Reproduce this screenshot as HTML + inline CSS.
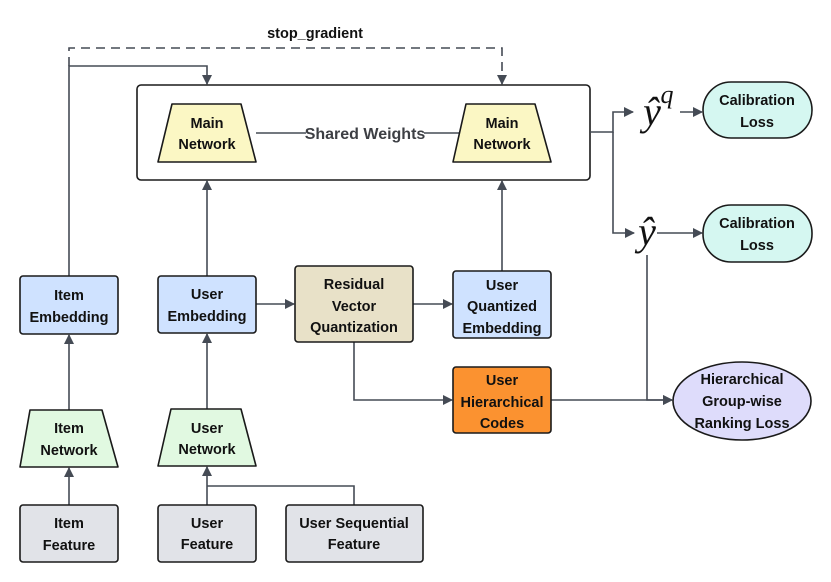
<!DOCTYPE html>
<html><head><meta charset="utf-8"><style>
body{margin:0;background:#fff}
svg{display:block}
text{font-family:"Liberation Sans",sans-serif;font-weight:bold;font-size:14.5px;fill:#111;text-anchor:middle}
.l{stroke:#454b55;stroke-width:1.6;fill:none}
.b{stroke:#1a1a1a;stroke-width:1.6}
.m{font-family:"Liberation Serif",serif;font-weight:normal;font-style:italic}
</style></head><body>
<svg width="831" height="582" viewBox="0 0 831 582">
<defs><marker id="a" markerWidth="10" markerHeight="10" refX="9" refY="5" orient="auto" markerUnits="userSpaceOnUse"><path d="M0,0 L10,5 L0,10z" fill="#454b55"/></marker></defs>
<path class="l" d="M69,276 V66 H207 V84" marker-end="url(#a)"/>
<path class="l" d="M69,66 V48 H502 V84" stroke-dasharray="9,6" marker-end="url(#a)"/>
<text x="315" y="38">stop_gradient</text>
<rect x="137" y="85" width="453" height="95" rx="4" fill="#fff" class="b"/>
<path class="l" d="M256,133 H306 M424,133 H466"/>
<text x="365" y="139" style="fill:#3d3f44;font-size:16px">Shared Weights</text>
<path d="M172,104 H241 L256,162 H158 Z" fill="#fbf7c4" class="b" stroke-linejoin="round"/>
<text x="207" y="128">Main</text><text x="207" y="149">Network</text>
<path d="M466,104 H535 L551,162 H453 Z" fill="#fbf7c4" class="b" stroke-linejoin="round"/>
<text x="502" y="128">Main</text><text x="502" y="149">Network</text>
<path class="l" d="M590,132 H613 V112 H633" marker-end="url(#a)"/>
<path class="l" d="M613,132 V233 H634" marker-end="url(#a)"/>
<text class="m" x="652" y="125" style="font-size:40px">ŷ</text>
<text class="m" x="667" y="103" style="font-size:26px">q</text>
<text class="m" x="647" y="245" style="font-size:40px">ŷ</text>
<path class="l" d="M680,112 H702" marker-end="url(#a)"/>
<path class="l" d="M657,233 H702" marker-end="url(#a)"/>
<rect x="703" y="82" width="109" height="56" rx="28" fill="#d5f7f1" class="b"/>
<text x="757" y="105">Calibration</text><text x="757" y="127">Loss</text>
<rect x="703" y="205" width="109" height="57" rx="28" fill="#d5f7f1" class="b"/>
<text x="757" y="228">Calibration</text><text x="757" y="250">Loss</text>
<path class="l" d="M647,255 V400 H672" marker-end="url(#a)"/>
<path class="l" d="M551,400 H672" marker-end="url(#a)"/>
<ellipse cx="742" cy="401" rx="69" ry="39" fill="#dedcfb" class="b"/>
<text x="742" y="384">Hierarchical</text><text x="742" y="406">Group-wise</text><text x="742" y="428">Ranking Loss</text>
<path class="l" d="M207,276 V181" marker-end="url(#a)"/>
<path class="l" d="M502,271 V181" marker-end="url(#a)"/>
<path class="l" d="M256,304 H294" marker-end="url(#a)"/>
<path class="l" d="M413,304 H452" marker-end="url(#a)"/>
<path class="l" d="M354,342 V400 H452" marker-end="url(#a)"/>
<rect x="20" y="276" width="98" height="58" rx="3" fill="#cfe2ff" class="b"/>
<text x="69" y="300">Item</text><text x="69" y="322">Embedding</text>
<rect x="158" y="276" width="98" height="57" rx="3" fill="#cfe2ff" class="b"/>
<text x="207" y="299">User</text><text x="207" y="321">Embedding</text>
<rect x="295" y="266" width="118" height="76" rx="3" fill="#e8e1c8" class="b"/>
<text x="354" y="289">Residual</text><text x="354" y="311">Vector</text><text x="354" y="332">Quantization</text>
<rect x="453" y="271" width="98" height="67" rx="3" fill="#cfe2ff" class="b"/>
<text x="502" y="290">User</text><text x="502" y="311">Quantized</text><text x="502" y="333">Embedding</text>
<rect x="453" y="367" width="98" height="66" rx="3" fill="#fb9230" class="b"/>
<text x="502" y="385">User</text><text x="502" y="407">Hierarchical</text><text x="502" y="428">Codes</text>
<path class="l" d="M69,410 V335" marker-end="url(#a)"/>
<path class="l" d="M207,409 V334" marker-end="url(#a)"/>
<path class="l" d="M69,505 V468" marker-end="url(#a)"/>
<path class="l" d="M207,505 V467" marker-end="url(#a)"/>
<path class="l" d="M354,505 V486 H207"/>
<path d="M30,410 H102 L118,467 H20 Z" fill="#e1f9e1" class="b" stroke-linejoin="round"/>
<text x="69" y="433">Item</text><text x="69" y="455">Network</text>
<path d="M171,409 H241 L256,466 H158 Z" fill="#e1f9e1" class="b" stroke-linejoin="round"/>
<text x="207" y="433">User</text><text x="207" y="454">Network</text>
<rect x="20" y="505" width="98" height="57" rx="3" fill="#e1e3e8" class="b"/>
<text x="69" y="528">Item</text><text x="69" y="550">Feature</text>
<rect x="158" y="505" width="98" height="57" rx="3" fill="#e1e3e8" class="b"/>
<text x="207" y="528">User</text><text x="207" y="549">Feature</text>
<rect x="286" y="505" width="137" height="57" rx="3" fill="#e1e3e8" class="b"/>
<text x="354" y="528">User Sequential</text><text x="354" y="549">Feature</text>
</svg>
</body></html>
